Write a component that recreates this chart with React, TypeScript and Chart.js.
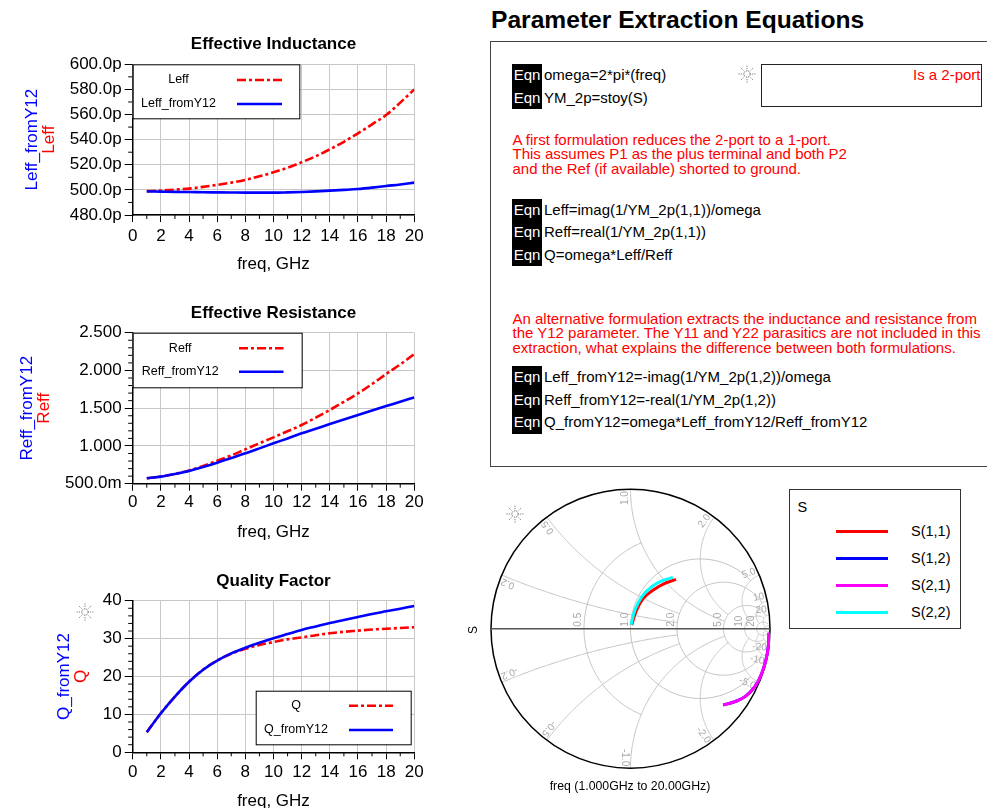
import React, { useEffect, useRef } from "react";
import { Chart, registerables } from "chart.js";

Chart.register(...registerables);

const FONT = '"Liberation Sans", Arial, Helvetica, sans-serif';

// ---------- sweep data ----------
const freqGHz = [1, 2, 3, 4, 5, 6, 7, 8, 9, 10, 11, 12, 13, 14, 15, 16, 17, 18, 19, 20];

// effective inductance, pH
const leff = [499.0, 499.5, 500.2, 501.0, 502.4, 504.0, 505.8, 508.0, 510.8, 514.0, 517.7, 522.0, 526.8, 532.3, 538.3, 545.0, 552.2, 559.6, 569.5, 580.0];
const leffFromY12 = [498.8, 498.6, 498.4, 498.3, 498.1, 498.0, 497.9, 497.8, 497.8, 497.8, 498.0, 498.3, 498.8, 499.4, 500.0, 500.7, 501.8, 503.1, 504.3, 505.8];

// effective resistance, Ohm
const reff = [0.572, 0.595, 0.63, 0.675, 0.735, 0.805, 0.875, 0.955, 1.035, 1.114, 1.195, 1.277, 1.375, 1.476, 1.585, 1.696, 1.82, 1.953, 2.08, 2.217];
const reffFromY12 = [0.572, 0.594, 0.628, 0.668, 0.72, 0.778, 0.84, 0.902, 0.968, 1.035, 1.1, 1.167, 1.228, 1.29, 1.35, 1.41, 1.47, 1.528, 1.585, 1.643];

// quality factor
const qFactor = [5.3, 10.3, 14.7, 18.6, 21.8, 24.2, 26.0, 27.3, 28.3, 29.1, 29.8, 30.3, 30.9, 31.4, 31.8, 32.1, 32.4, 32.6, 32.8, 33.0];
const qFromY12 = [5.3, 10.3, 14.7, 18.6, 21.8, 24.2, 26.1, 27.6, 28.9, 30.1, 31.2, 32.3, 33.2, 34.1, 34.9, 35.7, 36.5, 37.2, 37.9, 38.6];

// S-parameters (reflection-plane coordinates), 1 GHz .. 20 GHz
const s11Re = [0.009, 0.044, 0.092, 0.163, 0.235, 0.326];
const s11Im = [0.027, 0.134, 0.218, 0.277, 0.32, 0.354];
const s22Re = [0.004, 0.032, 0.08, 0.152, 0.224, 0.303];
const s22Im = [0.027, 0.134, 0.229, 0.301, 0.342, 0.368];
const s21Re = [0.993, 0.988, 0.971, 0.941, 0.892, 0.821, 0.749, 0.665];
const s21Im = [-0.029, -0.129, -0.224, -0.32, -0.416, -0.487, -0.523, -0.547];

// Smith grid: resistance circles / reactance arcs and how far each one is drawn
const smithResistance = [0.5, 1, 2, 5, 10, 20, 50];
const smithResistanceReach = [1, 5, 10, 20, 20, 50, Infinity];
const smithReactance = [0.2, 0.5, 1, 2, 5, 10, 20];
const smithReactanceReach = [2, 2, 5, 5, 10, 20, 50];

const RED = "#ff0000";
const BLUE = "#0000ff";
const DASH_DOT = [9, 3, 3, 3];

const CANVAS_W = 430;
const CANVAS_H = 270;
const X_BOX_H = 60;

type Trace = { label: string; values: number[]; color: string; dash: number[] };
type PanelSpec = {
  title: string;
  canvasTop: number;
  area: { left: number; top: number; right: number; bottom: number };
  y: { min: number; max: number; step: number; minor: number; fmt: (v: number) => string };
  tickPad: number;
  yTitles: { text: string; color: string; x: number }[];
  legend: { left: number; top: number; w: number; h: number; textX: number; line0: number; line1: number; rows: number[] };
  traces: Trace[];
};

const panels: PanelSpec[] = [
  {
    title: "Effective Inductance",
    canvasTop: 30,
    area: { left: 132.7, top: 64.3, right: 414.3, bottom: 215 },
    y: { min: 480, max: 600, step: 20, minor: 1, fmt: (v) => v.toFixed(1) + "p" },
    tickPad: 4,
    yTitles: [
      { text: "Leff_fromY12", color: BLUE, x: 32.5 },
      { text: "Leff", color: RED, x: 49 },
    ],
    legend: { left: 132.7, top: 64.3, w: 166.6, h: 54, textX: 178.5, line0: 237, line1: 282, rows: [80, 104] },
    traces: [
      { label: "Leff", values: leff, color: RED, dash: DASH_DOT },
      { label: "Leff_fromY12", values: leffFromY12, color: BLUE, dash: [] },
    ],
  },
  {
    title: "Effective Resistance",
    canvasTop: 300,
    area: { left: 132.7, top: 332.7, right: 414.3, bottom: 483.7 },
    y: {
      min: 0.5,
      max: 2.5,
      step: 0.5,
      minor: 4,
      fmt: (v) => (v >= 1 ? v.toFixed(3) : (v * 1000).toFixed(1) + "m"),
    },
    tickPad: 1.5,
    yTitles: [
      { text: "Reff_fromY12", color: BLUE, x: 27.5 },
      { text: "Reff", color: RED, x: 44 },
    ],
    legend: { left: 132.7, top: 332.7, w: 169, h: 54.6, textX: 180.2, line0: 239, line1: 283.5, rows: [348.3, 371.7] },
    traces: [
      { label: "Reff", values: reff, color: RED, dash: DASH_DOT },
      { label: "Reff_fromY12", values: reffFromY12, color: BLUE, dash: [] },
    ],
  },
  {
    title: "Quality Factor",
    canvasTop: 570,
    area: { left: 132.7, top: 600.7, right: 414.3, bottom: 752.3 },
    y: { min: 0, max: 40, step: 10, minor: 4, fmt: (v) => String(v) },
    tickPad: 2.5,
    yTitles: [
      { text: "Q_fromY12", color: BLUE, x: 64 },
      { text: "Q", color: RED, x: 81.5 },
    ],
    legend: { left: 255.7, top: 690.7, w: 155, h: 53.6, textX: 296, line0: 349, line1: 393, rows: [705.7, 730] },
    traces: [
      { label: "Q", values: qFactor, color: RED, dash: DASH_DOT },
      { label: "Q_fromY12", values: qFromY12, color: BLUE, dash: [] },
    ],
  },
];

function LinePanel({ spec }: { spec: PanelSpec }) {
  const ref = useRef<HTMLCanvasElement>(null);
  useEffect(() => {
    const canvas = ref.current!;
    const a0 = spec.area;
    const off = spec.canvasTop;

    const decor = {
      id: "adsDecor",
      afterDraw(chart: any) {
        const { ctx, chartArea: a, scales } = chart;
        const xs = scales.x;
        const ys = scales.y;
        ctx.save();

        // minor tick marks
        ctx.strokeStyle = "#000";
        ctx.lineWidth = 1;
        ctx.beginPath();
        for (let v = 1; v < 20; v += 2) {
          const px = xs.getPixelForValue(v);
          ctx.moveTo(px, a.bottom);
          ctx.lineTo(px, a.bottom + 4);
        }
        const parts = spec.y.minor + 1;
        const n = Math.round((spec.y.max - spec.y.min) / spec.y.step) * parts;
        for (let i = 1; i < n; i++) {
          if (i % parts === 0) continue;
          const v = spec.y.min + (i * spec.y.step) / parts;
          const py = ys.getPixelForValue(v);
          ctx.moveTo(a.left - 4.5, py);
          ctx.lineTo(a.left, py);
        }
        ctx.stroke();

        // plot title
        ctx.fillStyle = "#000";
        ctx.font = `bold 17px ${FONT}`;
        ctx.textAlign = "center";
        ctx.textBaseline = "middle";
        ctx.fillText(spec.title, (a.left + a.right) / 2, a.top - 19.5);

        // stacked y-axis titles
        ctx.font = `17px ${FONT}`;
        const yc = (a.top + a.bottom) / 2;
        for (const t of spec.yTitles) {
          ctx.save();
          ctx.translate(t.x, yc);
          ctx.rotate(-Math.PI / 2);
          ctx.fillStyle = t.color;
          ctx.fillText(t.text, 0, 0);
          ctx.restore();
        }

        // legend box
        const L = spec.legend;
        const lt = L.top - off;
        ctx.fillStyle = "#fff";
        ctx.fillRect(L.left, lt, L.w, L.h);
        ctx.strokeStyle = "#000";
        ctx.lineWidth = 1;
        ctx.strokeRect(L.left + 0.5, lt + 0.5, L.w, L.h);
        ctx.font = `12.5px ${FONT}`;
        spec.traces.forEach((t, i) => {
          const ry = L.rows[i] - off;
          ctx.fillStyle = "#000";
          ctx.textAlign = "center";
          ctx.fillText(t.label, L.textX, ry);
          ctx.strokeStyle = t.color;
          ctx.lineWidth = 2.6;
          ctx.setLineDash(t.dash);
          ctx.beginPath();
          ctx.moveTo(L.line0, ry);
          ctx.lineTo(L.line1, ry);
          ctx.stroke();
          ctx.setLineDash([]);
        });
        ctx.restore();
      },
    };

    const tickFont = { family: FONT, size: 17 };
    const chart = new Chart(canvas, {
      type: "line",
      data: {
        datasets: spec.traces.map((t) => ({
          label: t.label,
          data: freqGHz.map((f, k) => ({ x: f, y: t.values[k] })),
          borderColor: t.color,
          backgroundColor: t.color,
          borderWidth: 2.6,
          borderDash: t.dash,
          pointRadius: 0,
          fill: false,
          cubicInterpolationMode: "monotone",
          order: t.dash.length ? 2 : 1,
        })),
      },
      options: {
        responsive: false,
        animation: false,
        devicePixelRatio: 1,
        events: [],
        layout: {
          padding: {
            left: 0,
            top: a0.top - off,
            right: CANVAS_W - a0.right,
            bottom: CANVAS_H - (a0.bottom - off) - X_BOX_H,
          },
        },
        plugins: { legend: { display: false }, tooltip: { enabled: false }, title: { display: false } },
        scales: {
          x: {
            type: "linear",
            min: 0,
            max: 20,
            afterFit: (s: any) => {
              s.height = X_BOX_H;
            },
            grid: { color: "#c8c8c8", lineWidth: 1, tickLength: 7, tickColor: "#000", tickWidth: 1 },
            border: { display: true, color: "#000", width: 1.5 },
            ticks: {
              stepSize: 2,
              autoSkip: false,
              maxRotation: 0,
              padding: spec.tickPad,
              color: "#000",
              font: tickFont,
              callback: (v: any) => String(v),
            },
            title: {
              display: true,
              text: "freq, GHz",
              color: "#000",
              font: tickFont,
              padding: { top: 0, bottom: 0.8 },
            },
          },
          y: {
            type: "linear",
            min: spec.y.min,
            max: spec.y.max,
            afterFit: (s: any) => {
              s.width = a0.left;
            },
            grid: { color: "#c8c8c8", lineWidth: 1, tickLength: 8, tickColor: "#000", tickWidth: 1 },
            border: { display: true, color: "#000", width: 1.5 },
            ticks: {
              stepSize: spec.y.step,
              autoSkip: false,
              padding: 3,
              color: "#000",
              font: tickFont,
              callback: (v: any) => spec.y.fmt(Number(v)),
            },
          },
        },
      },
      plugins: [decor],
    } as any);
    return () => chart.destroy();
  }, [spec]);
  return (
    <canvas
      ref={ref}
      width={CANVAS_W}
      height={CANVAS_H}
      style={{ position: "absolute", left: 0, top: spec.canvasTop, width: CANVAS_W, height: CANVAS_H }}
    />
  );
}

// ---------- Smith chart ----------
function gammaOf(r: number, x: number): [number, number] {
  const den = (r + 1) * (r + 1) + x * x;
  return [(r * r + x * x - 1) / den, (2 * x) / den];
}

function SmithChart() {
  const ref = useRef<HTMLCanvasElement>(null);
  useEffect(() => {
    const canvas = ref.current!;
    const grid = {
      id: "smithGrid",
      beforeDatasetsDraw(chart: any) {
        const { ctx, scales } = chart;
        const xs = scales.x;
        const ys = scales.y;
        const px = (g: [number, number]): [number, number] => [xs.getPixelForValue(g[0]), ys.getPixelForValue(g[1])];
        const cx = xs.getPixelForValue(0);
        const cy = ys.getPixelForValue(0);
        const R = xs.getPixelForValue(1) - cx;
        const N = 160;

        ctx.save();
        ctx.beginPath();
        ctx.arc(cx, cy, R, 0, Math.PI * 2);
        ctx.clip();
        ctx.strokeStyle = "#c2c2c2";
        ctx.lineWidth = 1;

        smithResistance.forEach((r, i) => {
          const X = smithResistanceReach[i];
          const U = isFinite(X) ? Math.atan(X / (r + 1)) : Math.PI / 2 - 1e-4;
          ctx.beginPath();
          for (let k = 0; k <= N; k++) {
            const u = -U + (2 * U * k) / N;
            const p = px(gammaOf(r, (r + 1) * Math.tan(u)));
            if (k === 0) ctx.moveTo(p[0], p[1]);
            else ctx.lineTo(p[0], p[1]);
          }
          ctx.stroke();
        });

        smithReactance.forEach((xv, i) => {
          const Rr = smithReactanceReach[i];
          for (const sgn of [1, -1]) {
            const w0 = Math.atan2(xv, 1);
            const wR = isFinite(Rr) ? Math.atan2(xv, Rr + 1) : 1e-4;
            ctx.beginPath();
            for (let k = 0; k <= N; k++) {
              const w = wR + ((w0 - wR) * k) / N;
              const rr = Math.max(0, xv / Math.tan(w) - 1);
              const p = px(gammaOf(rr, sgn * xv));
              if (k === 0) ctx.moveTo(p[0], p[1]);
              else ctx.lineTo(p[0], p[1]);
            }
            ctx.stroke();
          }
        });
        ctx.restore();

        // outer circle and real axis
        ctx.save();
        ctx.strokeStyle = "#000";
        ctx.lineWidth = 1.5;
        ctx.beginPath();
        ctx.arc(cx, cy, R, 0, Math.PI * 2);
        ctx.stroke();
        ctx.strokeStyle = "#555";
        ctx.beginPath();
        ctx.moveTo(cx - R, cy);
        ctx.lineTo(cx + R, cy);
        ctx.stroke();

        // grid labels
        ctx.fillStyle = "#a8a8a8";
        ctx.font = `10px ${FONT}`;
        ctx.textBaseline = "middle";
        const fmt = (v: number) => (Math.abs(v) < 10 ? v.toFixed(1) : String(v));
        smithResistance.forEach((r) => {
          if (r > 20) return;
          const p = px(gammaOf(r, 0));
          ctx.save();
          ctx.translate(p[0] - 5.5, p[1] - 2);
          ctx.rotate(-Math.PI / 2);
          ctx.textAlign = "left";
          ctx.fillText(fmt(r), 0, 0);
          ctx.restore();
        });
        smithReactance.forEach((xv) => {
          for (const sgn of [1, -1]) {
            const g = gammaOf(0, sgn * xv);
            const p = px(g);
            const dx = g[0];
            const dy = -g[1];
            const nx = sgn > 0 ? dy : -dy;
            const ny = sgn > 0 ? -dx : dx;
            ctx.save();
            ctx.translate(p[0] - dx * 2 + nx * 5.5, p[1] - dy * 2 + ny * 5.5);
            ctx.rotate(Math.atan2(dy, dx));
            ctx.textAlign = "right";
            ctx.fillText(fmt(sgn * xv), 0, 0);
            ctx.restore();
          }
        });
        ctx.restore();
      },
    };

    const pts = (re: number[], im: number[]) => re.map((v, i) => ({ x: v, y: im[i] }));
    const trace = (label: string, color: string, re: number[], im: number[], order: number) => ({
      label,
      data: pts(re, im),
      borderColor: color,
      backgroundColor: color,
      borderWidth: 3,
      pointRadius: 0,
      showLine: true,
      fill: false,
      tension: 0.4,
      order,
    });

    const chart = new Chart(canvas, {
      type: "scatter",
      data: {
        datasets: [
          trace("S(1,1)", "#ff0000", s11Re, s11Im, 2),
          trace("S(1,2)", "#0000ff", s21Re, s21Im, 2),
          trace("S(2,1)", "#ff00ff", s21Re, s21Im, 1),
          trace("S(2,2)", "#00ffff", s22Re, s22Im, 1),
        ],
      },
      options: {
        responsive: false,
        animation: false,
        devicePixelRatio: 1,
        events: [],
        layout: { padding: { left: 21, top: 19.2, right: 20, bottom: 21.8 } },
        plugins: { legend: { display: false }, tooltip: { enabled: false } },
        scales: {
          x: { type: "linear", min: -1, max: 1, display: false },
          y: { type: "linear", min: -1, max: 1, display: false },
        },
      },
      plugins: [grid],
    } as any);
    return () => chart.destroy();
  }, []);
  return (
    <canvas
      ref={ref}
      width={320}
      height={320}
      style={{ position: "absolute", left: 470, top: 470, width: 320, height: 320 }}
    />
  );
}

function Sun({ cx, cy }: { cx: number; cy: number }) {
  const rays = [0, 45, 90, 135, 180, 225, 270, 315];
  return (
    <svg
      width={20}
      height={20}
      viewBox="-10 -10 20 20"
      style={{ position: "absolute", left: cx - 10, top: cy - 10 }}
    >
      <circle r={3.2} fill="none" stroke="#555" strokeWidth={1} strokeDasharray="1.3 1" />
      {rays.map((d) => {
        const r = (d * Math.PI) / 180;
        return (
          <line
            key={d}
            x1={Math.cos(r) * 5}
            y1={Math.sin(r) * 5}
            x2={Math.cos(r) * 9.5}
            y2={Math.sin(r) * 9.5}
            stroke="#777"
            strokeWidth={0.9}
            strokeDasharray="1.2 1"
          />
        );
      })}
    </svg>
  );
}

const ROW = 22.5;

function EqnBlock({ top, lines }: { top: number; lines: string[] }) {
  return (
    <>
      <div style={{ position: "absolute", left: 512, top, width: 30, height: ROW * lines.length, background: "#000" }} />
      {lines.map((t, i) => (
        <React.Fragment key={i}>
          <div
            style={{
              position: "absolute",
              left: 512,
              top: top + i * ROW,
              width: 30,
              height: ROW,
              lineHeight: ROW + "px",
              textAlign: "center",
              color: "#fff",
              fontSize: 15,
            }}
          >
            Eqn
          </div>
          <div
            style={{
              position: "absolute",
              left: 544,
              top: top + i * ROW,
              height: ROW,
              lineHeight: ROW + "px",
              color: "#000",
              fontSize: 15,
              whiteSpace: "nowrap",
            }}
          >
            {t}
          </div>
        </React.Fragment>
      ))}
    </>
  );
}

function RedLines({ centers, lines }: { centers: number[]; lines: string[] }) {
  return (
    <>
      {lines.map((t, i) => (
        <div
          key={i}
          style={{
            position: "absolute",
            left: 512.5,
            top: centers[i] - 9,
            height: 18,
            lineHeight: "18px",
            fontSize: 15,
            color: RED,
            whiteSpace: "nowrap",
          }}
        >
          {t}
        </div>
      ))}
    </>
  );
}

const smithLegendItems = [
  { label: "S(1,1)", color: "#ff0000" },
  { label: "S(1,2)", color: "#0000ff" },
  { label: "S(2,1)", color: "#ff00ff" },
  { label: "S(2,2)", color: "#00ffff" },
];

export default function App() {
  return (
    <div
      style={{
        position: "absolute",
        left: 0,
        top: 0,
        width: 987,
        height: 808,
        overflow: "hidden",
        background: "#fff",
        fontFamily: FONT,
      }}
    >
      {panels.map((p) => (
        <LinePanel key={p.title} spec={p} />
      ))}
      <Sun cx={85} cy={612} />

      <div
        style={{
          position: "absolute",
          left: 491,
          top: 4.5,
          fontSize: 24.6,
          fontWeight: "bold",
          lineHeight: "30px",
          color: "#000",
          whiteSpace: "nowrap",
        }}
      >
        Parameter Extraction Equations
      </div>

      <div
        style={{
          position: "absolute",
          left: 490,
          top: 41,
          width: 620,
          height: 426,
          boxSizing: "border-box",
          border: "1px solid #444",
        }}
      />

      <EqnBlock top={64} lines={["omega=2*pi*(freq)", "YM_2p=stoy(S)"]} />
      <Sun cx={746.5} cy={74} />
      <div
        style={{
          position: "absolute",
          left: 760.5,
          top: 64,
          width: 221,
          height: 43,
          boxSizing: "border-box",
          border: "1px solid #222",
          borderRightWidth: 1.5,
          borderBottomWidth: 1.5,
          overflow: "hidden",
        }}
      >
        <div
          style={{
            position: "absolute",
            right: 0,
            top: 0,
            lineHeight: "20px",
            fontSize: 15,
            color: RED,
            whiteSpace: "nowrap",
          }}
        >
          Is a 2-port
        </div>
      </div>

      <RedLines
        centers={[139.5, 154, 168.5]}
        lines={[
          "A first formulation reduces the 2-port to a 1-port.",
          "This assumes P1 as the plus terminal and both P2",
          "and the Ref (if available) shorted to ground.",
        ]}
      />
      <EqnBlock
        top={198.5}
        lines={["Leff=imag(1/YM_2p(1,1))/omega", "Reff=real(1/YM_2p(1,1))", "Q=omega*Leff/Reff"]}
      />
      <RedLines
        centers={[318.5, 333, 347.5]}
        lines={[
          "An alternative formulation extracts the inductance and resistance from",
          "the Y12 parameter. The Y11 and Y22 parasitics are not included in this",
          "extraction, what explains the difference between both formulations.",
        ]}
      />
      <EqnBlock
        top={366.3}
        lines={[
          "Leff_fromY12=-imag(1/YM_2p(1,2))/omega",
          "Reff_fromY12=-real(1/YM_2p(1,2))",
          "Q_fromY12=omega*Leff_fromY12/Reff_fromY12",
        ]}
      />

      <SmithChart />
      <Sun cx={515} cy={514} />
      <div
        style={{
          position: "absolute",
          left: 466,
          top: 622,
          width: 14,
          height: 16,
          lineHeight: "16px",
          fontSize: 12,
          textAlign: "center",
          color: "#000",
          transform: "rotate(-90deg)",
        }}
      >
        S
      </div>
      <div
        style={{
          position: "absolute",
          left: 530,
          width: 200,
          top: 778,
          lineHeight: "17px",
          fontSize: 12.3,
          textAlign: "center",
          color: "#000",
          whiteSpace: "nowrap",
        }}
      >
        freq (1.000GHz to 20.00GHz)
      </div>

      <div
        style={{
          position: "absolute",
          left: 788.5,
          top: 489,
          width: 172,
          height: 140,
          boxSizing: "border-box",
          border: "1px solid #333",
          background: "#fff",
        }}
      >
        <div style={{ position: "absolute", left: 8, top: 8, fontSize: 14.5, lineHeight: "18px" }}>S</div>
        {smithLegendItems.map((it, i) => (
          <React.Fragment key={it.label}>
            <div
              style={{
                position: "absolute",
                left: 46,
                top: 41.2 + i * 27 - 1.5,
                width: 52,
                height: 3,
                background: it.color,
              }}
            />
            <div
              style={{
                position: "absolute",
                left: 121.5,
                top: 41.2 + i * 27 - 9,
                lineHeight: "18px",
                fontSize: 14.5,
                whiteSpace: "nowrap",
              }}
            >
              {it.label}
            </div>
          </React.Fragment>
        ))}
      </div>
    </div>
  );
}
